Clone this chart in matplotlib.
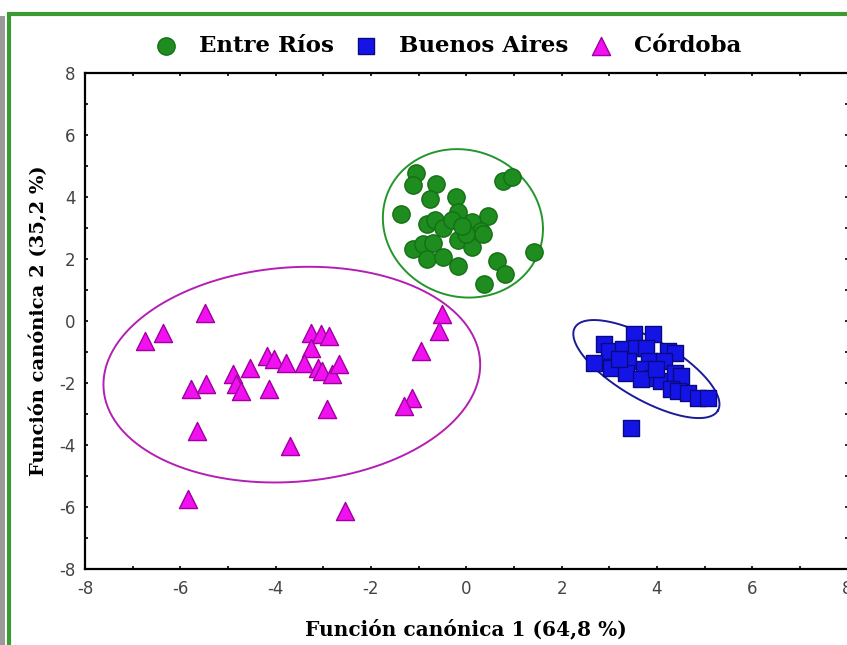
import numpy as np
from matplotlib import pyplot as plt
from matplotlib.patches import Rectangle

plt.rcParams['axes.unicode_minus'] = False

# Entre Ríos scores (green circles)
er_x = [-1.05, -1.12, -0.63, -0.76, -0.21, -1.37, 0.78, 0.97, 0.46, -0.17,
        -0.82, -0.65, -0.49, -0.30, 0.13, 0.30, -0.17, 0.13, -1.12, -0.91,
        -0.70, -0.82, -0.49, -0.17, 0.65, 0.82, 0.38, 1.43, 0.00, -0.08, 0.36]
er_y = [4.77, 4.39, 4.42, 3.94, 4.00, 3.45, 4.52, 4.65, 3.39, 3.52,
        3.13, 3.26, 3.00, 3.26, 3.19, 2.90, 2.61, 2.39, 2.32, 2.48,
        2.52, 2.00, 2.06, 1.77, 1.94, 1.52, 1.19, 2.23, 2.80, 3.06, 2.80]

# Buenos Aires scores (blue squares)
ba_x = [3.52, 3.92, 2.89, 3.00, 3.29, 3.57, 3.78, 4.24, 4.37, 2.68,
        3.04, 3.40, 3.84, 4.14, 3.35, 3.73, 3.92, 4.09, 4.37, 4.51,
        4.30, 4.45, 4.66, 4.87, 5.08, 3.46, 3.20, 3.67, 3.99]
ba_y = [-0.42, -0.42, -0.74, -0.97, -0.90, -0.87, -0.87, -0.97, -1.03, -1.35,
        -1.52, -1.29, -1.29, -1.29, -1.68, -1.55, -1.84, -1.94, -1.68, -1.77,
        -2.19, -2.26, -2.32, -2.48, -2.48, -3.45, -1.23, -1.87, -1.55]

# Córdoba scores (magenta triangles)
co_x = [-5.49, -6.37, -6.75, -5.78, -5.46, -4.89, -4.83, -4.73, -4.54, -4.14,
        -4.18, -4.03, -3.78, -5.65, -5.84, -3.69, -3.25, -3.04, -2.89, -3.25,
        -3.40, -3.12, -3.02, -2.81, -2.68, -2.93, -2.55, -0.51, -0.57, -0.95,
        -1.14, -1.31]
co_y = [0.26, -0.39, -0.65, -2.19, -2.03, -1.71, -2.03, -2.26, -1.52, -2.19,
        -1.13, -1.23, -1.35, -3.55, -5.74, -4.03, -0.39, -0.42, -0.48, -0.87,
        -1.35, -1.52, -1.61, -1.71, -1.39, -2.84, -6.13, 0.23, -0.32, -0.97,
        -2.48, -2.74]

# confidence ellipses: centre and two conjugate half-axis vectors
er_ell = [(-0.07, 3.15), (1.68, -0.15), (-0.02, 2.39)]
ba_ell = [(3.78, -1.55), (1.50, -1.34), (0.32, 0.84)]
co_ell = [(-3.66, -1.73), (3.95, 0.45), (-0.15, 3.45)]

x_ticks = [-8, -6, -4, -2, 0, 2, 4, 6, 8]
y_ticks = [-8, -6, -4, -2, 0, 2, 4, 6, 8]

green = '#1e8c1e'
blue = '#1414e6'
magenta = '#f010f0'

fig = plt.figure(figsize=(8.47, 6.45), dpi=100)

# outer frame with shadow
fig.patches.append(Rectangle((0, 0), 0.006, 1 - 16 / 645, transform=fig.transFigure,
                             facecolor='#9a9a9a', edgecolor='none', zorder=-2))
fig.patches.append(Rectangle((8.5 / 847, -0.1), 1.2, 1.1 - 14.5 / 645,
                             transform=fig.transFigure, facecolor='white',
                             edgecolor='#3c9a32', linewidth=3, zorder=-1))

ax = fig.add_axes([85 / 847, 76 / 645, (847.5 - 85) / 847, (569 - 73) / 645])
ax.set_zorder(1)
ax.patch.set_alpha(0)


def draw_ellipse(ell, color):
    t = np.linspace(0, 2 * np.pi, 300)
    (cx, cy), (ux, uy), (vx, vy) = ell
    ax.plot(cx + ux * np.cos(t) + vx * np.sin(t),
            cy + uy * np.cos(t) + vy * np.sin(t), color=color, lw=1.4, zorder=2)


draw_ellipse(er_ell, '#22962a')
draw_ellipse(ba_ell, '#1a1a9a')
draw_ellipse(co_ell, '#b41eb4')

ax.scatter(er_x, er_y, s=155, marker='o', facecolor=green, edgecolor='#137013',
           linewidth=1, label='Entre Ríos', zorder=3)
ax.scatter(ba_x, ba_y, s=135, marker='s', facecolor=blue, edgecolor='#0a0a80',
           linewidth=1, label='Buenos Aires', zorder=3)
ax.scatter(co_x, co_y, s=170, marker='^', facecolor=magenta, edgecolor='#a000a0',
           linewidth=1, label='Córdoba', zorder=3)

ax.set_xlim(-8, 8)
ax.set_ylim(-8, 8)
ax.set_xticks(x_ticks)
ax.set_yticks(y_ticks)
ax.set_xticks(np.arange(-8, 9, 1), minor=True)
ax.set_yticks(np.arange(-8, 9, 1), minor=True)
ax.tick_params(which='both', direction='in', top=True, right=True, width=1.2,
               length=2.5, labelsize=12, labelcolor='#444444')
ax.tick_params(axis='x', which='major', pad=8)
ax.tick_params(axis='y', which='major', pad=7)
ax.spines['right'].set_visible(False)
for side in ['top', 'bottom', 'left']:
    ax.spines[side].set_linewidth(1.6)

ax.set_xlabel('Función canónica 1 (64,8 %)', family='DejaVu Serif',
              fontweight='bold', fontsize=14.5, labelpad=15)
ax.set_ylabel('Función canónica 2 (35,2 %)', family='DejaVu Serif',
              fontweight='bold', fontsize=14, labelpad=8)

fig.legend(loc='center', bbox_to_anchor=(442 / 847, 1 - 46 / 645), ncol=3,
           frameon=False, prop={'family': 'DejaVu Serif', 'weight': 'bold', 'size': 16.5},
           handletextpad=0.45, columnspacing=0.4, markerscale=1.0)

fig.savefig('out.png', dpi=100)
